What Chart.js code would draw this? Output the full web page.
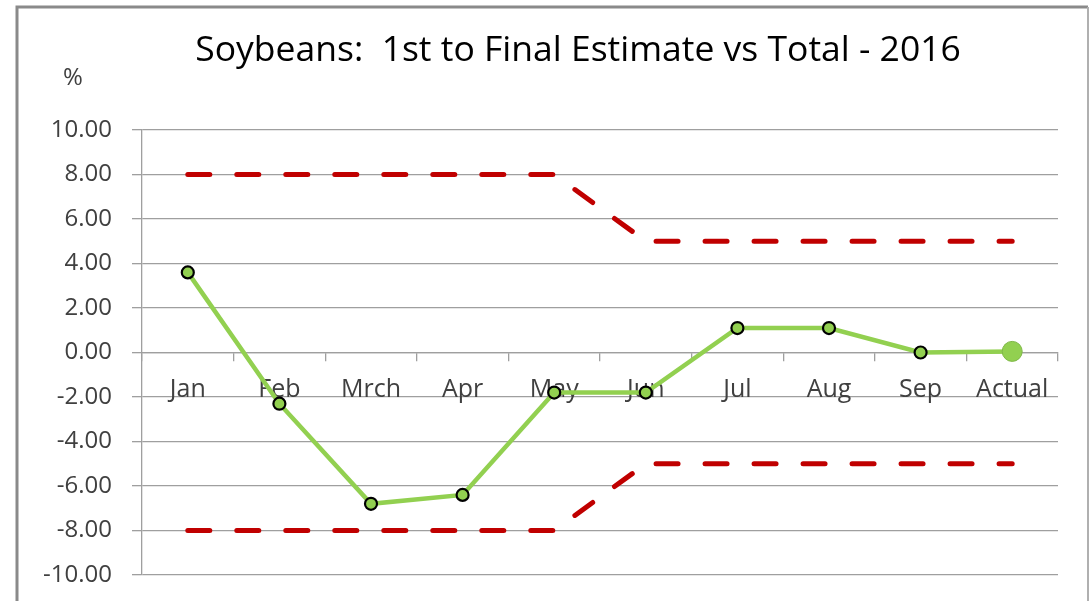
<!DOCTYPE html>
<html>
<head>
<meta charset="utf-8">
<script src="https://cdn.jsdelivr.net/npm/chart.js@4/dist/chart.umd.min.js"></script>
<style>
  html, body { margin: 0; padding: 0; background: #ffffff; }
  #wrap { position: relative; width: 1090px; height: 601px; }
</style>
</head>
<body>
<div id="wrap"><canvas id="c" width="1090" height="601"></canvas></div>
<script>
const categories = ['Jan', 'Feb', 'Mrch', 'Apr', 'May', 'Jun', 'Jul', 'Aug', 'Sep', 'Actual'];
const estimateValues = [3.6, -2.3, -6.8, -6.4, -1.8, -1.8, 1.1, 1.1, 0.0, 0.05];
const upperBand = [8, 8, 8, 8, 8, 5, 5, 5, 5, 5];
const lowerBand = [-8, -8, -8, -8, -8, -5, -5, -5, -5, -5];
const yTicks = [-10, -8, -6, -4, -2, 0, 2, 4, 6, 8, 10];
const titleText = 'Soybeans:  1st to Final Estimate vs Total - 2016';
const unitText = '%';

const GREEN = '#92D050';
const RED = '#C00000';
const GRID = '#9f9f9f';
const TXT = '#404040';
const FONT = "'Open Sans', 'DejaVu Sans', sans-serif";

const framePlugin = {
  id: 'frameAndText',
  beforeDraw(chart) {
    const ctx = chart.ctx;
    ctx.save();
    ctx.fillStyle = '#ffffff';
    ctx.fillRect(0, 0, chart.width, chart.height);
    ctx.strokeStyle = '#8a8a8a';
    ctx.lineWidth = 3;
    ctx.beginPath();
    ctx.moveTo(17, 601);
    ctx.lineTo(17, 7);
    ctx.lineTo(1088, 7);
    ctx.stroke();
    ctx.strokeStyle = '#b0b0b0';
    ctx.lineWidth = 2;
    ctx.beginPath();
    ctx.moveTo(1088, 7);
    ctx.lineTo(1088, 601);
    ctx.stroke();
    ctx.restore();
  },
  afterDraw(chart) {
    const ctx = chart.ctx;
    ctx.save();
    ctx.fillStyle = '#000000';
    ctx.font = "35.5px " + FONT;
    ctx.textAlign = 'center';
    ctx.textBaseline = 'middle';
    ctx.fillText(titleText, 578, 51);
    ctx.fillStyle = TXT;
    ctx.font = "24px " + FONT;
    ctx.fillText(unitText, 73, 78);
    ctx.restore();
  }
};

new Chart(document.getElementById('c'), {
  type: 'line',
  data: {
    labels: categories,
    datasets: [
      {
        label: 'Estimate',
        data: estimateValues,
        borderColor: GREEN,
        borderWidth: 4.5,
        backgroundColor: GREEN,
        pointBackgroundColor: GREEN,
        pointBorderColor: ['#000','#000','#000','#000','#000','#000','#000','#000','#000','#7fb848'],
        pointBorderWidth: [2.2,2.2,2.2,2.2,2.2,2.2,2.2,2.2,2.2,1],
        pointRadius: [6,6,6,6,6,6,6,6,6,10],
        tension: 0,
        order: 0
      },
      {
        label: 'Upper',
        data: upperBand,
        borderColor: RED,
        borderWidth: 5,
        borderDash: [22, 27],
        borderCapStyle: 'round',
        pointRadius: 0,
        tension: 0,
        order: 1
      },
      {
        label: 'Lower',
        data: lowerBand,
        borderColor: RED,
        borderWidth: 5,
        borderDash: [22, 27],
        borderCapStyle: 'round',
        pointRadius: 0,
        tension: 0,
        order: 1
      }
    ]
  },
  options: {
    responsive: false,
    animation: false,
    layout: { padding: { top: 130, left: 0, right: 32, bottom: 26 } },
    plugins: {
      legend: { display: false },
      title: { display: false },
      tooltip: { enabled: false }
    },
    scales: {
      x: {
        type: 'category',
        position: { y: 0 },
        offset: true,
        grid: {
          offset: true,
          drawOnChartArea: false,
          drawTicks: true,
          tickLength: 8,
          color: GRID,
          lineWidth: 1.3
        },
        border: { display: true, color: GRID, width: 1.3 },
        ticks: {
          color: TXT,
          font: { family: FONT, size: 25 },
          padding: 14,
          maxRotation: 0,
          autoSkip: false
        }
      },
      y: {
        min: -10,
        max: 10,
        afterFit(scale) {
          scale.width = 142;
          scale.paddingTop = 0;
          scale.paddingBottom = 0;
        },
        afterBuildTicks(scale) { scale.ticks = yTicks.map(v => ({ value: v })); },
        grid: {
          color: GRID,
          lineWidth: 1.3,
          drawTicks: true,
          tickLength: 10
        },
        border: { display: true, color: GRID, width: 1.3 },
        ticks: {
          color: TXT,
          font: { family: FONT, size: 24 },
          padding: 20,
          callback: v => Number(v).toFixed(2)
        }
      }
    }
  },
  plugins: [framePlugin]
});
</script>
</body>
</html>
